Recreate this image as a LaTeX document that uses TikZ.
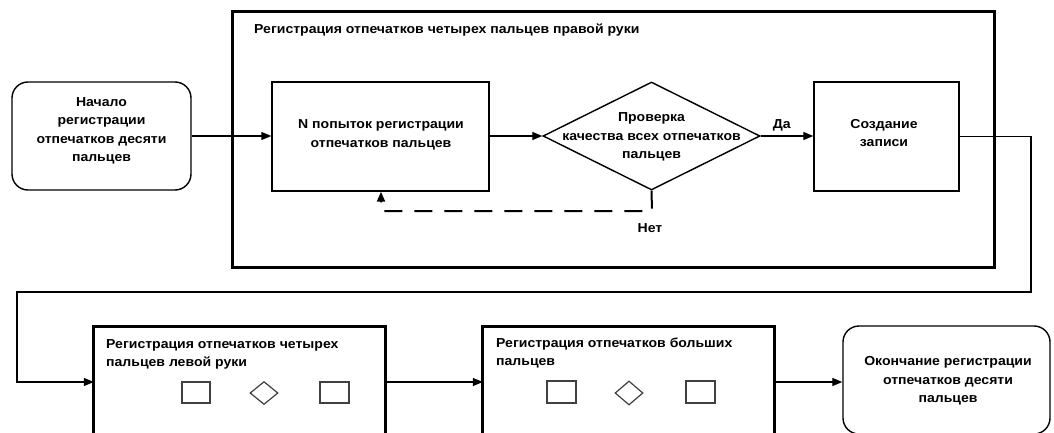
\documentclass[tikz,border=0pt]{standalone}
\usepackage{fontspec}
\setmainfont{Liberation Sans}[FakeStretch=1.08]
\usetikzlibrary{shapes.geometric,arrows.meta}
\begin{document}
\begin{tikzpicture}[x=1pt,y=-1pt,
  txt/.style={font=\fontsize{13}{18.5}\selectfont\bfseries, align=center, inner sep=0pt},
  ltxt/.style={font=\fontsize{13}{18}\selectfont\bfseries, align=left, inner sep=0pt},
  thinbox/.style={draw, line width=1.4pt, inner sep=0pt},
  rbox/.style={draw, line width=1.4pt, rounded corners=16pt, inner sep=0pt},
  grpbox/.style={draw, line width=3pt, inner sep=0pt},
  frame/.style={inner sep=0pt},
  arr/.style={line width=1.3pt, -{Triangle[length=10pt,width=8pt]}},
  dline/.style={line width=2pt, dash pattern=on 18pt off 12pt, -{Triangle[length=10pt,width=8pt]}},
  mini/.style={draw=black!75, line width=1.2pt, inner sep=0pt, fill=white}
]
\clip (0,0) rectangle (1054,433);
\fill[white] (0,0) rectangle (1054,433);

% group box (right hand)
\node[grpbox, minimum width=762pt, minimum height=255pt] (grp) at (613,139.5) {};
\node[ltxt, anchor=west] (grptitle) at (254,30) {Регистрация отпечатков четырех пальцев правой руки};

% start
\node[rbox, minimum width=179pt, minimum height=108pt] (start) at (101.5,136) {};
\node[txt] (starttxt) at (101.5,131) {Начало\\регистрации\\отпечатков десяти\\пальцев};

% N attempts
\node[thinbox, minimum width=217pt, minimum height=109pt] (nbox) at (380.5,136.5) {};
\node[txt] (ntxt) at (381,135) {N попыток регистрации\\отпечатков пальцев};

% decision
\node[diamond, draw, line width=1.4pt, inner sep=0pt, minimum width=217pt, minimum height=108pt] (dia) at (651.5,136) {};
\node[txt] (diatxt) at (651.5,137) {Проверка\\качества всех отпечатков\\пальцев};

% create record
\node[thinbox, minimum width=145pt, minimum height=109pt] (create) at (886.5,136.5) {};
\node[txt] (createtxt) at (884,133) {Создание\\записи};

% connectors top row
\draw[arr] (start.east) -- (nbox.west |- start.east);
\draw[arr] (nbox.east |- dia.west) -- (dia.west);
\draw[arr] (dia.east) -- (create.west |- dia.east) node[pos=0.4, above=4pt, font=\fontsize{13}{15}\selectfont\bfseries, inner sep=0pt] (da) {Да};

% dashed loop
\coordinate (lp1) at (652,211);
\coordinate (lp2) at (381,211);
\draw[dline] (dia.south) -- (lp1) -- (lp2) -- (nbox.south -| lp2);
\node[font=\fontsize{13}{15}\selectfont\bfseries, inner sep=0pt] (net) at (650,228) {Нет};

% bottom row frames (open at the bottom)
\node[frame, minimum width=291pt, minimum height=110pt] (b3) at (239.5,382) {};
\draw[line width=3pt] (b3.south west) -- (b3.north west) -- (b3.north east) -- (b3.south east);
\node[ltxt, anchor=north west] (b3title) at (106,339) {Регистрация отпечатков четырех\\пальцев левой руки};
\node[mini, minimum width=28pt, minimum height=21pt] (b3r1) at (196,392.5) {};
\node[mini, diamond, minimum width=28pt, minimum height=23pt] (b3d) at (264,393) {};
\node[mini, minimum width=29pt, minimum height=21pt] (b3r2) at (334.5,392.5) {};

\node[frame, minimum width=291pt, minimum height=110pt] (b4) at (628.5,382) {};
\draw[line width=3pt] (b4.south west) -- (b4.north west) -- (b4.north east) -- (b4.south east);
\node[ltxt, anchor=north west] (b4title) at (496,338) {Регистрация отпечатков больших\\пальцев};
\node[mini, minimum width=29pt, minimum height=22pt] (b4r1) at (561.5,392) {};
\node[mini, diamond, minimum width=28pt, minimum height=24pt] (b4d) at (629,393) {};
\node[mini, minimum width=29pt, minimum height=22pt] (b4r2) at (700.5,392) {};

% end
\node[rbox, minimum width=207pt, minimum height=108pt] (endb) at (946.5,380) {};
\node[txt] (endtxt) at (948,381) {Окончание регистрации\\отпечатков десяти\\пальцев};

% long connector
\coordinate (c1) at (1031,292);
\coordinate (c2) at (17,292);
\draw[arr] (create.east) -| (c1) -- (c2) |- (b3.west);

\draw[arr] (b3.east) -- (b4.west);
\draw[arr] (b4.east) -- (endb.west |- b4.east);
\end{tikzpicture}
\end{document}
